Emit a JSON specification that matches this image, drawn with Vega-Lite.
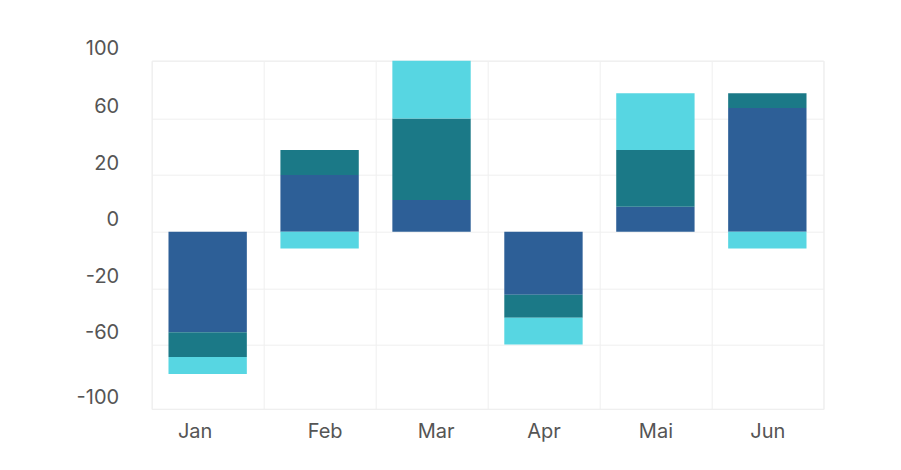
{
  "$schema": "https://vega.github.io/schema/vega-lite/v6.json",
  "autosize": "none",
  "width": 671.6,
  "height": 348.3,
  "padding": {"left": 151.7, "top": 60.7, "right": 77.7, "bottom": 61},
  "background": "#ffffff",
  "config": {
    "view": {"stroke": "#eeeeee", "strokeWidth": 1},
    "font": "Inter",
    "axis": {"labelFont": "Inter", "labelFontSize": 20, "labelColor": "#555555", "gridColor": "#efefef", "gridWidth": 1}
  },
  "data": {
    "values": [
      {"month": "Jan", "series": "s1", "value": -51.4},
      {"month": "Jan", "series": "s2", "value": -16.5},
      {"month": "Jan", "series": "s3", "value": -10.5},
      {"month": "Feb", "series": "s1", "value": 20},
      {"month": "Feb", "series": "s2", "value": 17.6},
      {"month": "Feb", "series": "s3", "value": -5.9},
      {"month": "Mar", "series": "s1", "value": 11.2},
      {"month": "Mar", "series": "s2", "value": 48.6},
      {"month": "Mar", "series": "s3", "value": 40.2},
      {"month": "Apr", "series": "s1", "value": -24.6},
      {"month": "Apr", "series": "s2", "value": -16.4},
      {"month": "Apr", "series": "s3", "value": -19.2},
      {"month": "Mai", "series": "s1", "value": 8.8},
      {"month": "Mai", "series": "s2", "value": 28.8},
      {"month": "Mai", "series": "s3", "value": 39.8},
      {"month": "Jun", "series": "s1", "value": 67.2},
      {"month": "Jun", "series": "s2", "value": 10.2},
      {"month": "Jun", "series": "s3", "value": -5.9}
    ]
  },
  "mark": {"type": "bar", "width": {"band": 0.7}},
  "encoding": {
    "x": {
      "field": "month",
      "type": "nominal",
      "sort": ["Jan", "Feb", "Mar", "Apr", "Mai", "Jun"],
      "scale": {"paddingInner": 0, "paddingOuter": 0},
      "axis": {
        "title": null, "labelAngle": 0, "grid": true, "tickBand": "extent", "ticks": false, "tickSize": 0, "domain": false, "labelPadding": 12, "labelBaseline": "top",
        "labelOffset": {"condition": [
          {"test": "datum.value == 'Jan'", "value": -13},
          {"test": "datum.value == 'Feb'", "value": 5},
          {"test": "datum.value == 'Mar'", "value": 4}
        ], "value": 0}
      }
    },
    "y": {
      "field": "value",
      "type": "quantitative",
      "stack": "zero",
      "scale": {"domain": [-100, -60, -20, 0, 20, 60, 100], "range": [348.3, 283.6, 227.6, 171, 114.3, 57.6, 0], "nice": false, "zero": false},
      "axis": {"title": null, "values": [-100, -60, -20, 0, 20, 60, 100], "labelExpr": "'' + datum.value", "grid": true, "ticks": false, "tickSize": 0, "domain": false, "labelOffset": -12, "labelPadding": 33}
    },
    "color": {
      "field": "series",
      "type": "nominal",
      "scale": {"domain": ["s1", "s2", "s3"], "range": ["#2d5f97", "#1b7987", "#57d6e2"]},
      "legend": null
    },
    "order": {"field": "series"}
  }
}
